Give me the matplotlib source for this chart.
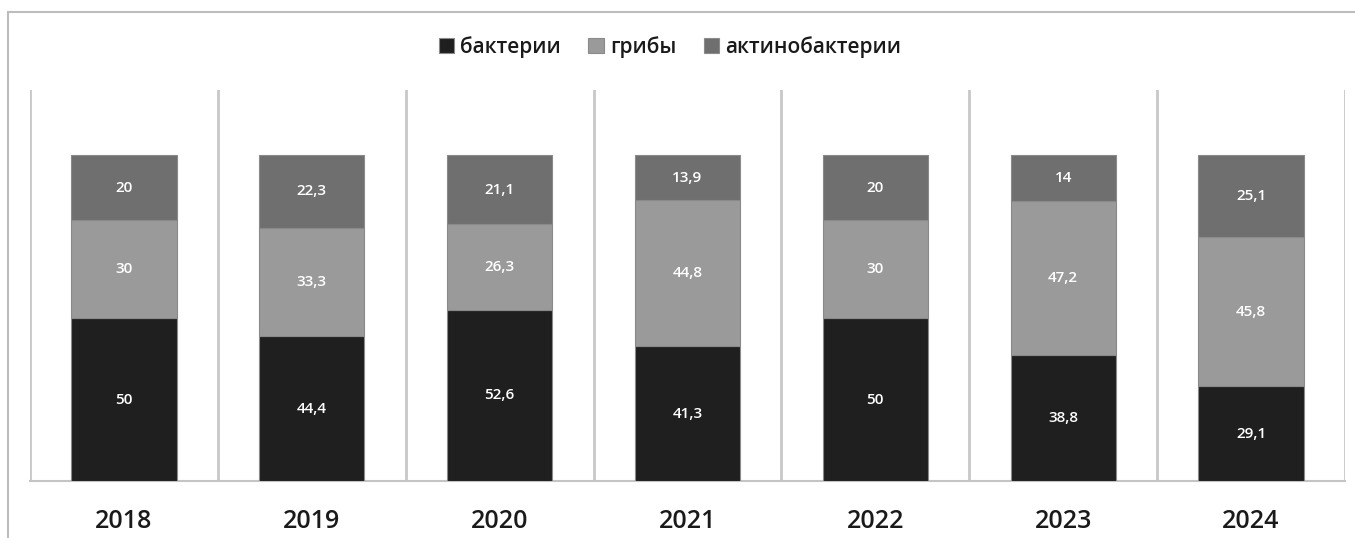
import matplotlib
matplotlib.use("Agg")
import matplotlib.pyplot as plt
from matplotlib.patches import Rectangle
import numpy as np

plt.rcParams['font.family'] = ['Open Sans', 'DejaVu Sans']

years = ['2018', '2019', '2020', '2021', '2022', '2023', '2024']
bacteria = [50, 44.4, 52.6, 41.3, 50, 38.8, 29.1]
fungi = [30, 33.3, 26.3, 44.8, 30, 47.2, 45.8]
actino = [20, 22.3, 21.1, 13.9, 20, 14, 25.1]
series_names = ['бактерии', 'грибы', 'актинобактерии']
colors = ['#1f1f1f', '#9a9a9a', '#6f6f6f']

fig = plt.figure(figsize=(13.55, 5.38), dpi=100)
ax = fig.add_axes([30/1355, 1-481/538, 1315/1355, 391/538])

x = np.arange(len(years))
bottom = np.zeros(len(years))
handles = []
for vals, name, col in zip([bacteria, fungi, actino], series_names, colors):
    vals = np.array(vals)
    bars = ax.bar(x, vals, width=0.56, bottom=bottom, color=col,
                  edgecolor='#8a8a8a', linewidth=0.8, label=name, zorder=3)
    for xi, b, v in zip(x, bottom, vals):
        ax.text(xi, b + v/2, f"{v:g}".replace('.', ','), ha='center', va='center',
                color='white', fontsize=11, fontweight='semibold', zorder=4)
    bottom += vals
    handles.append(bars)

ax.set_xlim(-0.5, len(years)-0.5)
ax.set_ylim(0, 120)
ax.set_yticks([])
ax.set_xticks(x)
ax.set_xticklabels(years, fontsize=18, color='#1a1a1a', fontweight='semibold')
ax.tick_params(axis='x', length=0, pad=20)
for s in ['top', 'left', 'right']:
    ax.spines[s].set_visible(False)
ax.spines['bottom'].set_color('#c4c4c4')
ax.spines['bottom'].set_linewidth(1.5)
for b in np.arange(-0.5, len(years), 1.0):
    ax.axvline(b, color='#c8c8c8', linewidth=2, zorder=1)

leg = fig.legend(handles=handles, labels=series_names, loc='center',
                 bbox_to_anchor=(670/1355, 1-47/538), ncol=3, frameon=False,
                 prop={'size': 15, 'weight': 'semibold'},
                 handlelength=0.75, handleheight=0.75,
                 handletextpad=0.3, columnspacing=1.3)
for t in leg.get_texts():
    t.set_color('#1a1a1a')

frame = Rectangle((8/1355, -0.05), 1.1, 1-12/538+0.05, transform=fig.transFigure,
                  fill=False, edgecolor='#bdbdbd', linewidth=1.5)
fig.patches.append(frame)

fig.savefig('out.png', dpi=100)
